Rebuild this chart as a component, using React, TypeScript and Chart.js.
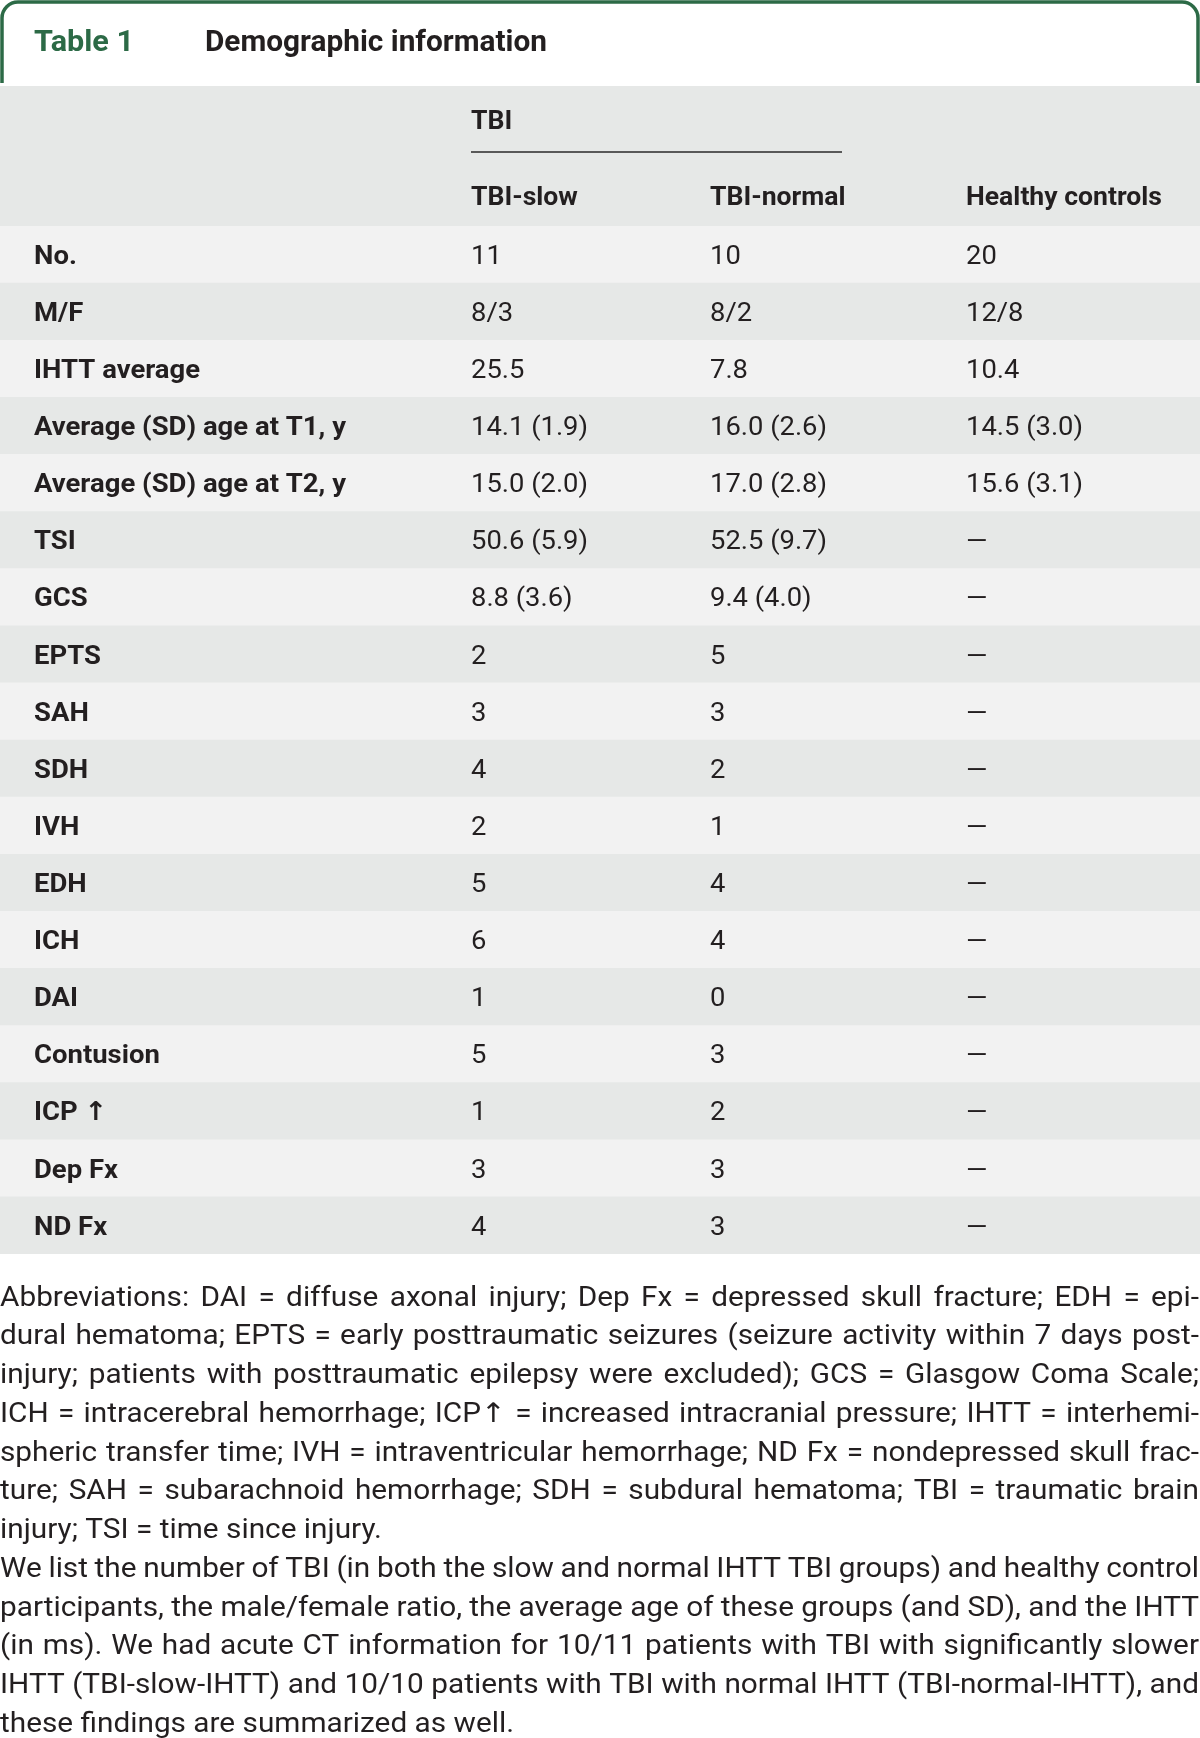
import React, { useEffect, useRef } from "react";
import { Chart, registerables } from "chart.js";

Chart.register(...registerables);

const W = 1200;
const H = 1738;

// ---------- data ----------
const tableNumber = "Table 1";
const tableTitle = "Demographic information";
const groupHeader = "TBI";
const columnHeaders = ["TBI-slow", "TBI-normal", "Healthy controls"];

const rowLabels = [
  "No.",
  "M/F",
  "IHTT average",
  "Average (SD) age at T1, y",
  "Average (SD) age at T2, y",
  "TSI",
  "GCS",
  "EPTS",
  "SAH",
  "SDH",
  "IVH",
  "EDH",
  "ICH",
  "DAI",
  "Contusion",
  "ICP ↑",
  "Dep Fx",
  "ND Fx",
];

const tbiSlow = [
  "11", "8/3", "25.5", "14.1 (1.9)", "15.0 (2.0)", "50.6 (5.9)", "8.8 (3.6)",
  "2", "3", "4", "2", "5", "6", "1", "5", "1", "3", "4",
];

const tbiNormal = [
  "10", "8/2", "7.8", "16.0 (2.6)", "17.0 (2.8)", "52.5 (9.7)", "9.4 (4.0)",
  "5", "3", "2", "1", "4", "4", "0", "3", "2", "3", "3",
];

const healthyControls = [
  "20", "12/8", "10.4", "14.5 (3.0)", "15.6 (3.1)", "—", "—",
  "—", "—", "—", "—", "—", "—", "—", "—", "—", "—", "—",
];

const abbreviationLines = [
  "Abbreviations: DAI = diffuse axonal injury; Dep Fx = depressed skull fracture; EDH = epi-",
  "dural hematoma; EPTS = early posttraumatic seizures (seizure activity within 7 days post-",
  "injury; patients with posttraumatic epilepsy were excluded); GCS = Glasgow Coma Scale;",
  "ICH = intracerebral hemorrhage; ICP↑ = increased intracranial pressure; IHTT = interhemi-",
  "spheric transfer time; IVH = intraventricular hemorrhage; ND Fx = nondepressed skull frac-",
  "ture; SAH = subarachnoid hemorrhage; SDH = subdural hematoma; TBI = traumatic brain",
  "injury; TSI = time since injury.",
];

const noteLines = [
  "We list the number of TBI (in both the slow and normal IHTT TBI groups) and healthy control",
  "participants, the male/female ratio, the average age of these groups (and SD), and the IHTT",
  "(in ms). We had acute CT information for 10/11 patients with TBI with significantly slower",
  "IHTT (TBI-slow-IHTT) and 10/10 patients with TBI with normal IHTT (TBI-normal-IHTT), and",
  "these findings are summarized as well.",
];

// ---------- layout / style ----------
const HEADER_TOP = 86;
const TABLE_TOP = 226;
const TABLE_BOTTOM = 1254;
const COL_X = [34, 471, 710, 966];
const TITLE_CY = 40;
const TBI_CY = 120;
const UNDERLINE_Y = 152;
const UNDERLINE_X2 = 842;
const COLHEAD_CY = 196;
const FOOT_CY0 = 1296;
const FOOT_LH = 38.75;

const INK = "#231f20";
const GREEN = "#2c6a46";
const DARK_ROW = "#e6e8e7";
const LIGHT_ROW = "#f2f2f2";
const FAMILY = "Roboto, 'Noto Sans', 'DejaVu Sans', sans-serif";

type Style = { font: string; size: number; ref: string; target: number; color: string; sx?: number };

const styles: Record<string, Style> = {
  num: { font: `bold 30px ${FAMILY}`, size: 30, ref: "Table 1", target: 100, color: GREEN },
  title: { font: `bold 30px ${FAMILY}`, size: 30, ref: "Demographic information", target: 342, color: INK },
  bold: { font: `bold 26px ${FAMILY}`, size: 26, ref: "Average (SD) age at T1, y", target: 312, color: INK },
  head: { font: `bold 26px ${FAMILY}`, size: 26, ref: "Healthy controls", target: 196, color: INK },
  value: { font: `26px ${FAMILY}`, size: 26, ref: "14.1 (1.9)", target: 117, color: INK },
  foot: { font: `27px ${FAMILY}`, size: 27, ref: "these findings are summarized as well.", target: 514, color: INK },
};

function prepare(ctx: CanvasRenderingContext2D, s: Style) {
  ctx.font = s.font;
  if (s.sx === undefined) {
    const w = ctx.measureText(s.ref).width;
    s.sx = w > 0 ? s.target / w : 1;
  }
  ctx.fillStyle = s.color;
  ctx.textBaseline = "alphabetic";
  ctx.textAlign = "left";
}

function drawText(ctx: CanvasRenderingContext2D, text: string, x: number, cy: number, s: Style) {
  prepare(ctx, s);
  const base = cy + s.size * 0.711 * 0.5;
  ctx.save();
  ctx.translate(x, base);
  ctx.scale(s.sx as number, 1);
  ctx.fillText(text, 0, 0);
  ctx.restore();
}

function drawLine(ctx: CanvasRenderingContext2D, text: string, cy: number, width: number, s: Style, justify: boolean) {
  prepare(ctx, s);
  const sx = s.sx as number;
  const base = cy + s.size * 0.711 * 0.5;
  ctx.save();
  ctx.translate(0, base);
  ctx.scale(sx, 1);
  const avail = width / sx;
  const words = text.split(" ");
  if (!justify || words.length < 2) {
    ctx.fillText(text, 0, 0);
  } else {
    const ws = words.map((w) => ctx.measureText(w).width);
    const total = ws.reduce((a, b) => a + b, 0);
    const gap = (avail - total) / (words.length - 1);
    let x = 0;
    words.forEach((w, i) => {
      ctx.fillText(w, x, 0);
      x += ws[i] + gap;
    });
  }
  ctx.restore();
}

const tablePlugin = {
  id: "tablePlugin",
  beforeDraw(chart: any) {
    const ctx: CanvasRenderingContext2D = chart.ctx;
    ctx.save();
    ctx.fillStyle = "#ffffff";
    ctx.fillRect(0, 0, W, H);
    // header background
    ctx.fillStyle = DARK_ROW;
    ctx.fillRect(0, HEADER_TOP, W, chart.chartArea.top - HEADER_TOP);
    // green tab border
    ctx.strokeStyle = GREEN;
    ctx.lineWidth = 3.5;
    const r = 16;
    const l = 2, t = 2, rr = W - 2, b = HEADER_TOP - 3;
    ctx.beginPath();
    ctx.moveTo(l, b);
    ctx.lineTo(l, t + r);
    ctx.arcTo(l, t, l + r, t, r);
    ctx.lineTo(rr - r, t);
    ctx.arcTo(rr, t, rr, t + r, r);
    ctx.lineTo(rr, b);
    ctx.stroke();
    ctx.restore();
  },
  afterDatasetsDraw(chart: any) {
    const ctx: CanvasRenderingContext2D = chart.ctx;
    const xs = chart.scales.x;
    const ys = chart.scales.y;
    const cx = COL_X.map((v) => xs.getPixelForValue(v));
    ctx.save();
    // title
    drawText(ctx, tableNumber, cx[0], TITLE_CY, styles.num);
    drawText(ctx, tableTitle, 205, TITLE_CY, styles.title);
    // group header
    drawText(ctx, groupHeader, cx[1], TBI_CY, styles.head);
    ctx.strokeStyle = "#2a2a2a";
    ctx.lineWidth = 1.6;
    ctx.beginPath();
    ctx.moveTo(cx[1], UNDERLINE_Y);
    ctx.lineTo(xs.getPixelForValue(UNDERLINE_X2), UNDERLINE_Y);
    ctx.stroke();
    columnHeaders.forEach((h, k) => drawText(ctx, h, cx[k + 1], COLHEAD_CY, styles.head));
    // rows
    rowLabels.forEach((lab, i) => {
      const y = ys.getPixelForValue(i);
      drawText(ctx, lab, cx[0], y, styles.bold);
      drawText(ctx, tbiSlow[i], cx[1], y, styles.value);
      drawText(ctx, tbiNormal[i], cx[2], y, styles.value);
      drawText(ctx, healthyControls[i], cx[3], y, styles.value);
    });
    // footnotes
    const all = [
      ...abbreviationLines.map((t, i) => ({ t, j: i < abbreviationLines.length - 1 })),
      ...noteLines.map((t, i) => ({ t, j: i < noteLines.length - 1 })),
    ];
    all.forEach((ln, i) => drawLine(ctx, ln.t, FOOT_CY0 + i * FOOT_LH, W - 1, styles.foot, ln.j));
    ctx.restore();
  },
};

export default function App() {
  const ref = useRef<HTMLCanvasElement>(null);
  useEffect(() => {
    document.body.style.margin = "0";
    const canvas = ref.current as HTMLCanvasElement;
    const chart = new Chart(canvas, {
      type: "bar",
      data: {
        labels: rowLabels,
        datasets: [
          {
            label: "rows",
            data: rowLabels.map(() => [0, W]) as any,
            backgroundColor: rowLabels.map((_, i) => (i % 2 === 0 ? LIGHT_ROW : DARK_ROW)),
            borderWidth: 0,
            borderSkipped: false,
            categoryPercentage: 1,
            barPercentage: 1,
          },
        ],
      },
      options: {
        indexAxis: "y",
        animation: false,
        responsive: false,
        devicePixelRatio: 1,
        layout: { padding: { top: TABLE_TOP, bottom: H - TABLE_BOTTOM, left: 0, right: 0 } },
        scales: {
          x: { type: "linear", min: 0, max: W, display: false },
          y: { type: "category", display: false, offset: true },
        },
        plugins: { legend: { display: false }, tooltip: { enabled: false }, title: { display: false } },
        events: [],
      },
      plugins: [tablePlugin],
    });
    return () => chart.destroy();
  }, []);
  return (
    <div style={{ width: W, height: H, position: "relative", background: "#fff" }}>
      <canvas ref={ref} width={W} height={H} style={{ width: W, height: H, display: "block" }} />
    </div>
  );
}
